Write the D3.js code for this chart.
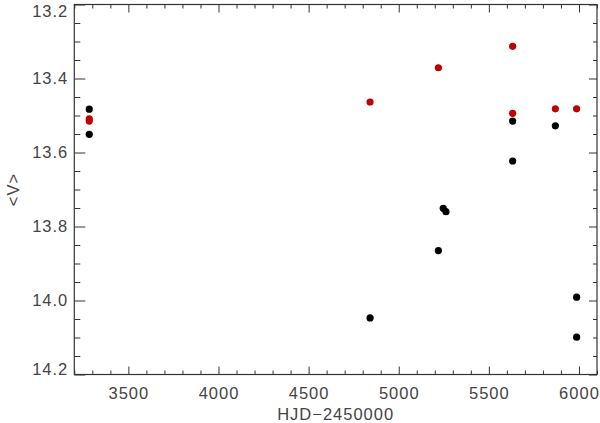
<!DOCTYPE html>
<html>
<head>
<meta charset="utf-8">
<script src="https://cdn.jsdelivr.net/npm/d3@7"></script>
<style>
  body { margin: 0; background: #fff; }
  text { font-family: "Liberation Sans", sans-serif; fill: #444; letter-spacing: 1px; }
</style>
</head>
<body>
<div id="chart"></div>
<script>
// data
const blackHJD = [3283, 3283, 4841, 5220, 5247, 5262, 5632, 5632, 5869, 5987, 5987];
const blackV   = [13.483, 13.551, 14.047, 13.865, 13.751, 13.760, 13.515, 13.623, 13.528, 13.991, 14.099];
const redHJD   = [3283, 3283, 4841, 5220, 5632, 5632, 5869, 5987];
const redV     = [13.509, 13.515, 13.4635, 13.371, 13.313, 13.494, 13.482, 13.482];

const xTicks = [3500, 4000, 4500, 5000, 5500, 6000];
const yTicks = [13.2, 13.4, 13.6, 13.8, 14.0, 14.2];

// constants
const width = 600, height = 423;
const plotLeft = 74.3, plotRight = 597, plotTop = 4.5, plotBottom = 374.5;
const axisColor = "#333";
const fontSize = 16.5;

const x = d3.scaleLinear().domain([3200, 6100]).range([plotLeft, plotRight]);
const y = d3.scaleLinear().domain([13.2, 14.2]).range([plotTop, plotBottom]);

const svg = d3.select("#chart")
  .append("svg")
  .attr("width", width)
  .attr("height", height);

// minor ticks every 100 / 0.05
const xMinor = d3.range(3200, 6101, 100).filter(v => v % 500 != 0);
const yMinor = d3.range(13.2, 14.21, 0.05).map(v => +v.toFixed(2))
  .filter(v => Math.abs(v * 5 - Math.round(v * 5)) > 1e-6);

function tickStyle(g) {
  g.select(".domain").remove();
  g.selectAll("line").attr("stroke", axisColor);
}

// bottom axis with labels
svg.append("g")
  .attr("transform", `translate(0,${plotBottom})`)
  .call(d3.axisBottom(x).tickValues(xTicks).tickSize(-8).tickFormat(d3.format("d")))
  .call(tickStyle)
  .call(g => g.selectAll("text").attr("font-size", fontSize).attr("font-family", null)
    .attr("y", 13).attr("dy", "0.71em"));

svg.append("g")
  .attr("transform", `translate(0,${plotBottom})`)
  .call(d3.axisBottom(x).tickValues(xMinor).tickSize(-4).tickFormat(""))
  .call(tickStyle);

// top axis, ticks only
svg.append("g")
  .attr("transform", `translate(0,${plotTop})`)
  .call(d3.axisTop(x).tickValues(xTicks).tickSize(-8).tickFormat(""))
  .call(tickStyle);

svg.append("g")
  .attr("transform", `translate(0,${plotTop})`)
  .call(d3.axisTop(x).tickValues(xMinor).tickSize(-4).tickFormat(""))
  .call(tickStyle);

// left axis with labels; end labels kept inside the frame height
svg.append("g")
  .attr("transform", `translate(${plotLeft},0)`)
  .call(d3.axisLeft(y).tickValues(yTicks).tickSize(-11).tickFormat(d3.format(".1f")))
  .call(tickStyle)
  .call(g => g.selectAll("text").attr("font-size", fontSize).attr("font-family", null)
    .attr("x", -6)
    .attr("y", d => d == 13.2 ? 6.5 : d == 14.2 ? -5 : 0));

svg.append("g")
  .attr("transform", `translate(${plotLeft},0)`)
  .call(d3.axisLeft(y).tickValues(yMinor).tickSize(-6).tickFormat(""))
  .call(tickStyle);

// right axis, ticks only
svg.append("g")
  .attr("transform", `translate(${plotRight},0)`)
  .call(d3.axisRight(y).tickValues(yTicks).tickSize(-8).tickFormat(""))
  .call(tickStyle);

svg.append("g")
  .attr("transform", `translate(${plotRight},0)`)
  .call(d3.axisRight(y).tickValues(yMinor).tickSize(-4).tickFormat(""))
  .call(tickStyle);

// frame
svg.append("rect")
  .attr("x", plotLeft)
  .attr("y", plotTop)
  .attr("width", plotRight - plotLeft)
  .attr("height", plotBottom - plotTop)
  .attr("fill", "none")
  .attr("stroke", axisColor)
  .attr("stroke-width", 1.2);

// axis titles
svg.append("text")
  .attr("x", (plotLeft + plotRight) / 2)
  .attr("y", 420)
  .attr("text-anchor", "middle")
  .attr("font-size", fontSize)
  .text("HJD\u22122450000");

svg.append("text")
  .attr("transform", `translate(19,${(plotTop + plotBottom) / 2}) rotate(-90)`)
  .attr("text-anchor", "middle")
  .attr("font-size", fontSize)
  .text("<V>");

// points
const black = blackHJD.map((d, i) => ({hjd: d, v: blackV[i]}));
const red = redHJD.map((d, i) => ({hjd: d, v: redV[i]}));

svg.append("g")
  .selectAll("circle")
  .data(black)
  .join("circle")
  .attr("cx", d => x(d.hjd))
  .attr("cy", d => y(d.v))
  .attr("r", 3.6)
  .attr("fill", "#000");

svg.append("g")
  .selectAll("circle")
  .data(red)
  .join("circle")
  .attr("cx", d => x(d.hjd))
  .attr("cy", d => y(d.v))
  .attr("r", 3.6)
  .attr("fill", "#c00000");
</script>
</body>
</html>
